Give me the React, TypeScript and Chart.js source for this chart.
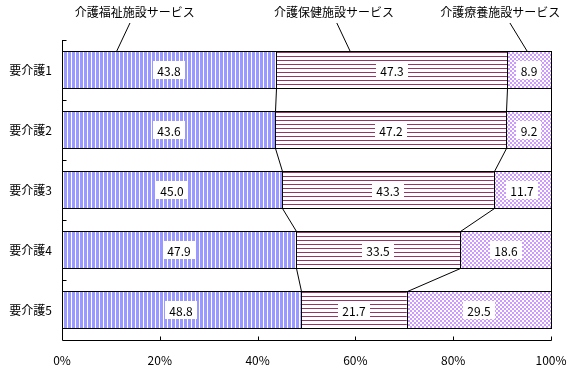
import React, { useEffect, useRef } from "react";
import { Chart, registerables } from "chart.js";

Chart.register(...registerables);

const categories = ["要介護1", "要介護2", "要介護3", "要介護4", "要介護5"];
const seriesNames = ["介護福祉施設サービス", "介護保健施設サービス", "介護療養施設サービス"];
const welfare = [43.8, 43.6, 45.0, 47.9, 48.8];
const health = [47.3, 47.2, 43.3, 33.5, 21.7];
const medical = [8.9, 9.2, 11.7, 18.6, 29.5];
const xTicks = [0, 20, 40, 60, 80, 100];

// annotation layout (value-axis units, %)
const annoTextX = [14.9, 55.6, 89.6];
const annoLineTopX = [13.9, 56.2, 91.6];
const annoLineBottomX = [11.2, 58.9, 95.1];

const FONT = '"Noto Sans CJK JP", "Noto Sans", sans-serif';

function makePattern(kind: string): CanvasPattern | string {
  const c = document.createElement("canvas");
  const g = c.getContext("2d")!;
  if (kind === "vstripe") {
    c.width = 4; c.height = 1;
    g.fillStyle = "#ffffff"; g.fillRect(0, 0, 4, 1);
    g.fillStyle = "#9999ff"; g.fillRect(0, 0, 3, 1);
  } else if (kind === "hline") {
    c.width = 1; c.height = 4;
    g.fillStyle = "#ffffff"; g.fillRect(0, 0, 1, 4);
    g.fillStyle = "#993366"; g.fillRect(0, 0, 1, 1);
  } else {
    c.width = 4; c.height = 4;
    g.fillStyle = "#ffffff"; g.fillRect(0, 0, 4, 4);
    g.fillStyle = "#cc99ff"; g.fillRect(0, 0, 2, 2); g.fillRect(2, 2, 2, 2);
  }
  return g.createPattern(c, "repeat") as CanvasPattern;
}

const overlay = {
  id: "overlay",
  afterDatasetsDraw(chart: any) {
    const ctx = chart.ctx as CanvasRenderingContext2D;
    const area = chart.chartArea;
    const xs = chart.scales.x;
    ctx.save();
    ctx.strokeStyle = "#000";
    ctx.lineWidth = 1;
    // bar outlines
    for (let d = 0; d < 3; d++) {
      chart.getDatasetMeta(d).data.forEach((el: any) => {
        const x0 = Math.round(el.base);
        const x1 = Math.round(el.x);
        const y0 = Math.round(el.y - el.height / 2);
        const y1 = Math.round(el.y + el.height / 2);
        ctx.strokeRect(x0 + 0.5, y0 + 0.5, x1 - x0, y1 - y0 - 1);
      });
    }
    // series lines
    for (let d = 0; d < 3; d++) {
      const els = chart.getDatasetMeta(d).data;
      for (let i = 0; i < els.length - 1; i++) {
        const a = els[i], b = els[i + 1];
        ctx.beginPath();
        ctx.moveTo(Math.round(a.x) + 0.5, Math.round(a.y + a.height / 2) - 0.5);
        ctx.lineTo(Math.round(b.x) + 0.5, Math.round(b.y - b.height / 2) + 0.5);
        ctx.stroke();
      }
    }
    // value labels
    ctx.font = "12px " + FONT;
    ctx.textAlign = "center";
    ctx.textBaseline = "middle";
    for (let d = 0; d < 3; d++) {
      const meta = chart.getDatasetMeta(d);
      const vals = chart.data.datasets[d].data as number[];
      meta.data.forEach((el: any, i: number) => {
        const txt = vals[i].toFixed(1);
        const cx = Math.round((el.x + el.base) / 2);
        const cy = Math.round(el.y);
        const w = Math.ceil(ctx.measureText(txt).width) + 8;
        const h = 18;
        ctx.fillStyle = "#fff";
        ctx.fillRect(cx - Math.round(w / 2), cy - 9, w, h);
        ctx.fillStyle = "#000";
        ctx.fillText(txt, cx, cy + 1);
      });
    }
    // axes
    const L = Math.round(area.left) + 0.5;
    const B = Math.round(area.bottom) + 0.5;
    ctx.beginPath();
    ctx.moveTo(L, Math.round(area.top));
    ctx.lineTo(L, B);
    ctx.lineTo(Math.round(area.right) + 0.5, B);
    ctx.stroke();
    const n = categories.length;
    const band = (area.bottom - area.top) / n;
    for (let i = 0; i < n; i++) {
      const y = Math.round(area.top + i * band) + 0.5;
      ctx.beginPath();
      ctx.moveTo(L, y);
      ctx.lineTo(L + 4, y);
      ctx.stroke();
    }
    xTicks.forEach((t) => {
      if (t === 0) return;
      const x = Math.round(xs.getPixelForValue(t)) + 0.5;
      ctx.beginPath();
      ctx.moveTo(x, B);
      ctx.lineTo(x, B - 4);
      ctx.stroke();
    });
    // annotations
    const first = chart.getDatasetMeta(0).data[0];
    ctx.fillStyle = "#000";
    ctx.font = "12px " + FONT;
    seriesNames.forEach((name, k) => {
      const tx = xs.getPixelForValue(annoTextX[k]);
      ctx.fillText(name, tx, 12);
      const barTop = Math.round(first.y - first.height / 2);
      ctx.beginPath();
      ctx.moveTo(xs.getPixelForValue(annoLineTopX[k]), 23);
      ctx.lineTo(xs.getPixelForValue(annoLineBottomX[k]), barTop);
      ctx.stroke();
    });
    ctx.restore();
  },
};

export default function App() {
  const ref = useRef<HTMLCanvasElement | null>(null);
  useEffect(() => {
    if (!ref.current) return;
    const chart = new Chart(ref.current, {
      type: "bar",
      data: {
        labels: categories,
        datasets: [
          { label: seriesNames[0], data: welfare, backgroundColor: makePattern("vstripe") as any },
          { label: seriesNames[1], data: health, backgroundColor: makePattern("hline") as any },
          { label: seriesNames[2], data: medical, backgroundColor: makePattern("check") as any },
        ].map((d) => ({
          ...d,
          borderWidth: 0,
          categoryPercentage: 1,
          barPercentage: 38 / 60,
        })),
      },
      options: {
        indexAxis: "y",
        responsive: false,
        animation: false,
        events: [],
        layout: { padding: { left: 0, top: 40, right: 18, bottom: 0 } },
        plugins: { legend: { display: false }, tooltip: { enabled: false } },
        scales: {
          x: {
            stacked: true,
            min: 0,
            max: 100,
            afterFit: (s: any) => { s.height = 31; s.paddingLeft = 0; s.paddingRight = 0; },
            afterBuildTicks: (s: any) => { s.ticks = xTicks.map((v) => ({ value: v })); },
            grid: { display: false, drawTicks: false },
            border: { display: false },
            ticks: {
              padding: 13,
              color: "#000",
              font: { family: FONT, size: 12 },
              maxRotation: 0,
              callback: (v: any) => v + "%",
            },
          },
          y: {
            stacked: true,
            afterFit: (s: any) => { s.width = 62; s.paddingTop = 0; s.paddingBottom = 0; },
            grid: { display: false, drawTicks: false },
            border: { display: false },
            ticks: {
              padding: 10,
              color: "#000",
              font: { family: FONT, size: 12 },
            },
          },
        },
      },
      plugins: [overlay],
    });
    return () => chart.destroy();
  }, []);
  return (
    <div style={{ position: "absolute", left: 0, top: 0, width: 569, height: 371, background: "#fff" }}>
      <canvas ref={ref} width={569} height={371} style={{ width: 569, height: 371, display: "block" }} />
    </div>
  );
}
